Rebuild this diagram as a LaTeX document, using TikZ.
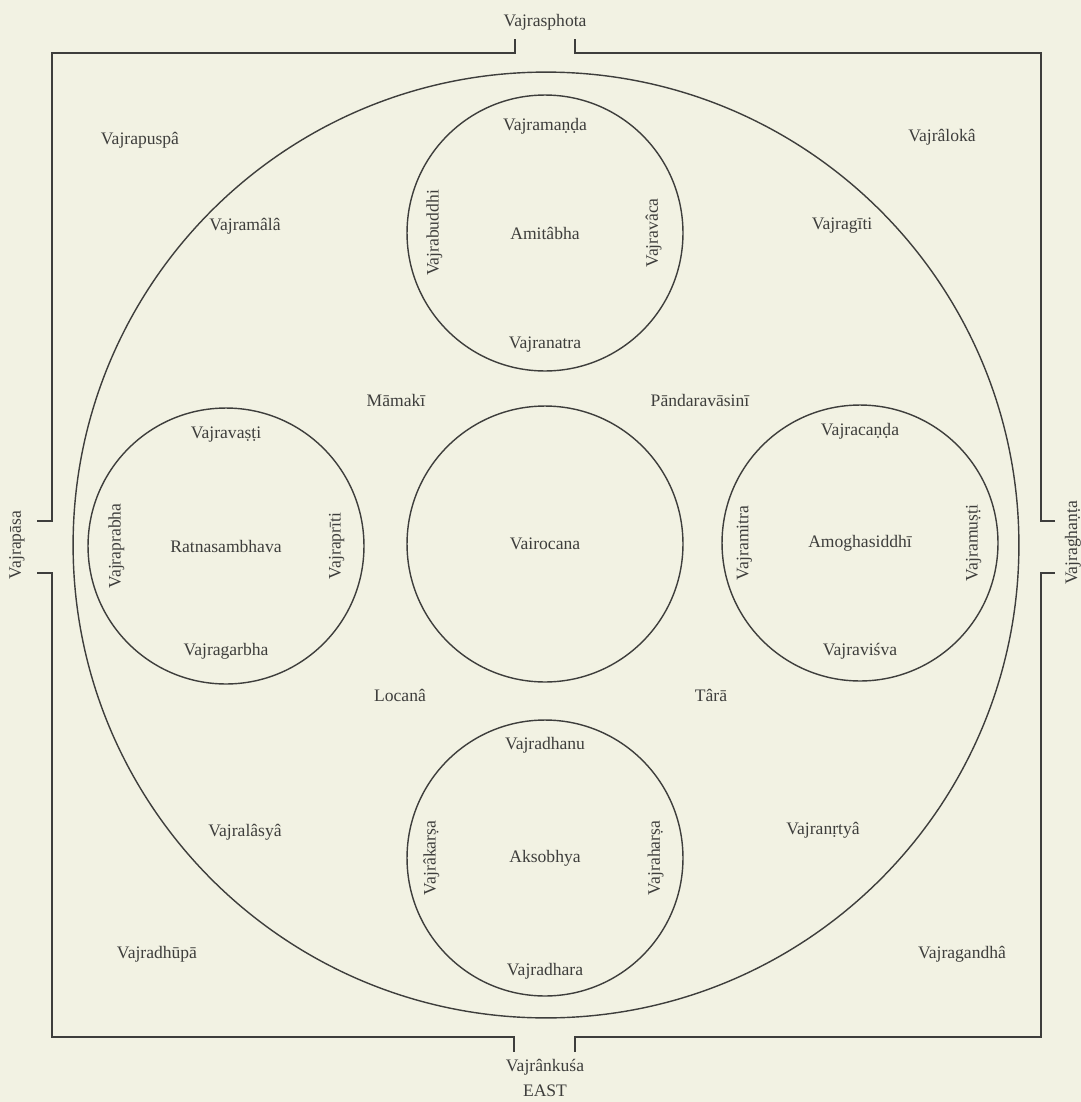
\documentclass[tikz,border=0pt]{standalone}
\usepackage{fontspec}
\setmainfont{Liberation Serif}
\usetikzlibrary{positioning}
\definecolor{paper}{RGB}{242,242,227}
\definecolor{ink}{RGB}{62,62,60}
\tikzset{
  wall/.style={draw=ink, line width=0.8pt},
  lbl/.style={text=ink, font=\fontsize{10}{12}\selectfont, inner sep=1pt},
  vlbl/.style={lbl, rotate=90},
  ring/.style={circle, draw=ink, line width=0.8pt, minimum size=5.52cm, inner sep=0pt, lbl},
}
\begin{document}
\begin{tikzpicture}[x=0.02cm, y=-0.02cm]
  \fill[paper] (0,0) rectangle (1081,1102);
  \useasboundingbox (0,0) rectangle (1081,1102);
  % enclosure with the four gates
  \draw[wall] (515,39) -- (515,53) -- (52,53) -- (52,521) -- (37,521);
  \draw[wall] (37,573) -- (52,573) -- (52,1037) -- (514,1037) -- (514,1052);
  \draw[wall] (575,1052) -- (575,1037) -- (1041,1037) -- (1041,573) -- (1055,573);
  \draw[wall] (1055,521) -- (1041,521) -- (1041,53) -- (575,53) -- (575,39);
  \node[lbl] (sphota) at (545,22) {Vajrasphota};
  \node[lbl] (ankusa) at (545,1067) {Vajrânkuśa};
  \node[lbl] (east) at (545,1091) {EAST};
  \node[vlbl] (pasa) at (17,545) {Vajrapāsa};
  \node[vlbl] (ghanta) at (1073,543) {Vajraghaṇṭa};
  % great circle
  \node[ring, minimum size=18.92cm] (cakra) at (546,545) {};
  % five families
  \node[ring] (vairocana) at (545,544) {Vairocana};
  \node[ring] (amitabha) at (545,233) {Amitâbha};
  \node[ring] (ratna) at (226,546) {Ratnasambhava};
  \node[ring] (amogha) at (860,543) {Amoghasiddhī};
  \node[ring] (aksobhya) at (545,858) {Aksobhya};
  % attendants of Amitabha
  \node[lbl] (manda) at ([yshift=-0.64cm]amitabha.north) {Vajramaṇḍa};
  \node[lbl] (natra) at ([yshift=0.54cm]amitabha.south) {Vajranatra};
  \node[vlbl] (buddhi) at ([xshift=0.56cm]amitabha.west) {Vajrabuddhi};
  \node[vlbl] (vaca) at ([xshift=-0.6cm]amitabha.east) {Vajravâca};
  % attendants of Ratnasambhava
  \node[lbl] (vasti) at ([yshift=-0.54cm]ratna.north) {Vajravaṣṭi};
  \node[lbl] (garbha) at ([yshift=0.66cm]ratna.south) {Vajragarbha};
  \node[vlbl] (prabha) at ([xshift=0.58cm]ratna.west) {Vajraprabha};
  \node[vlbl] (priti) at ([xshift=-0.56cm]ratna.east) {Vajraprīti};
  % attendants of Amoghasiddhi
  \node[lbl] (canda) at ([yshift=-0.54cm]amogha.north) {Vajracaṇḍa};
  \node[lbl] (visva) at ([yshift=0.6cm]amogha.south) {Vajraviśva};
  \node[vlbl] (mitra) at ([xshift=0.46cm]amogha.west) {Vajramitra};
  \node[vlbl] (musti) at ([xshift=-0.5cm]amogha.east) {Vajramuṣṭi};
  % attendants of Aksobhya
  \node[lbl] (dhanu) at ([yshift=-0.52cm]aksobhya.north) {Vajradhanu};
  \node[lbl] (dhara) at ([yshift=0.5cm]aksobhya.south) {Vajradhara};
  \node[vlbl] (karsa) at ([xshift=0.5cm]aksobhya.west) {Vajrâkarṣa};
  \node[vlbl] (harsa) at ([xshift=-0.56cm]aksobhya.east) {Vajraharṣa};
  % consorts
  \node[lbl] (mamaki) at (396,400) {Māmakī};
  \node[lbl] (pandara) at (700,400) {Pāndaravāsinī};
  \node[lbl] (locana) at (400,695) {Locanâ};
  \node[lbl] (tara) at (711,695) {Târā};
  % offering goddesses
  \node[lbl] (mala) at (245,226) {Vajramâlâ};
  \node[lbl] (giti) at (842,226) {Vajragīti};
  \node[lbl] (lasya) at (245,832) {Vajralâsyâ};
  \node[lbl] (nrtya) at (823,830) {Vajranṛtyâ};
  \node[lbl] (puspa) at (140,140) {Vajrapuspâ};
  \node[lbl] (aloka) at (942,137) {Vajrâlokâ};
  \node[lbl] (dhupa) at (157,954) {Vajradhūpā};
  \node[lbl] (gandha) at (962,954) {Vajragandhâ};
\end{tikzpicture}
\end{document}
